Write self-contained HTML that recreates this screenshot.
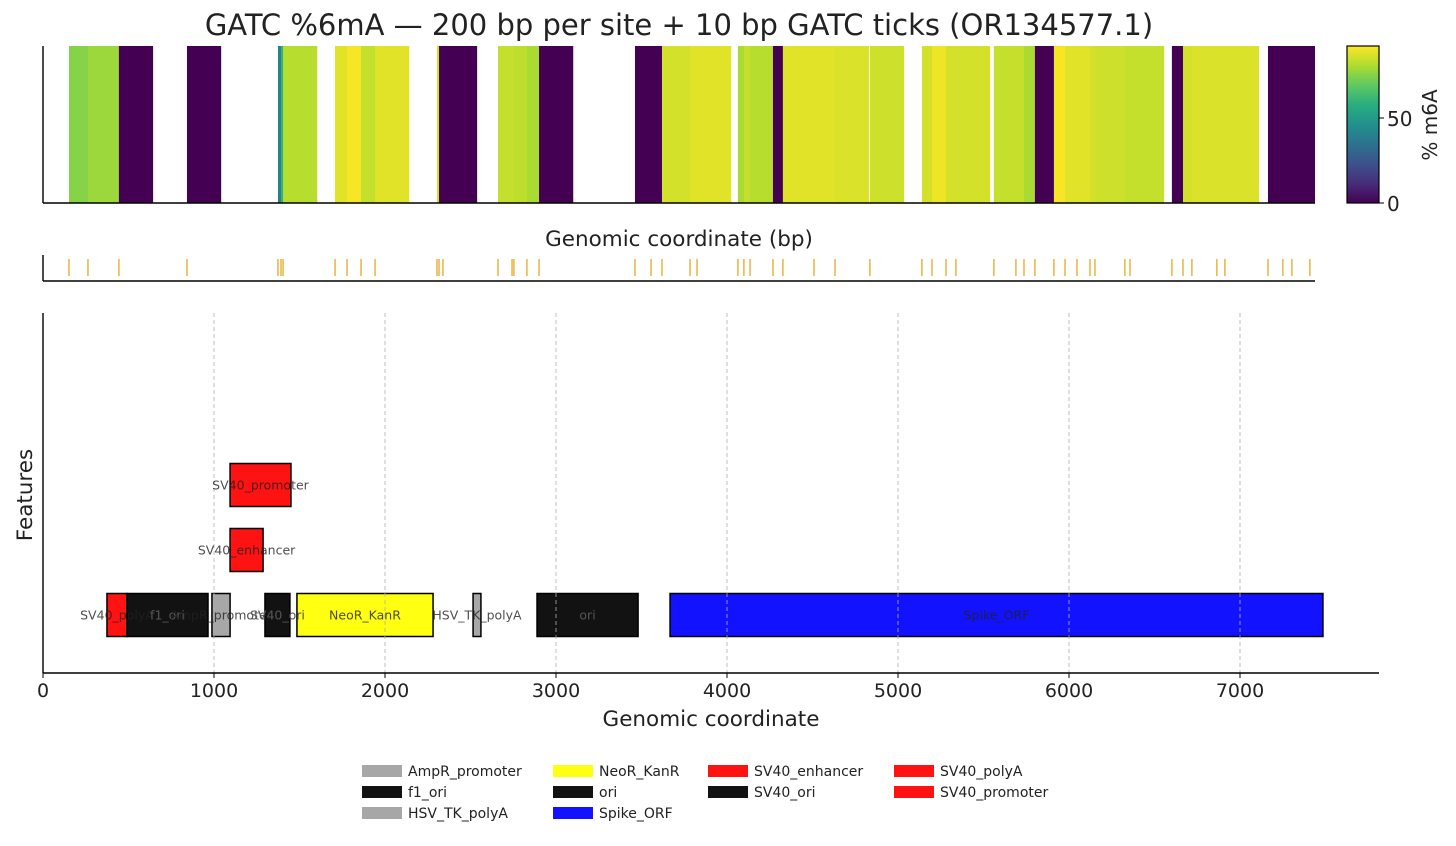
<!DOCTYPE html>
<html><head><meta charset="utf-8"><style>
body{margin:0;background:#fff;}
svg text{font-family:"DejaVu Sans","Liberation Sans",sans-serif;}
</style></head><body>
<svg id="chart" xmlns="http://www.w3.org/2000/svg" width="1456" height="841" viewBox="0 0 1456 841">
<defs>
<linearGradient id="vir" x1="0" y1="1" x2="0" y2="0">
<stop offset="0" stop-color="#440154"/><stop offset="0.125" stop-color="#472d7b"/><stop offset="0.25" stop-color="#3b528b"/><stop offset="0.375" stop-color="#2c728e"/><stop offset="0.5" stop-color="#21918c"/><stop offset="0.625" stop-color="#28ae80"/><stop offset="0.75" stop-color="#5ec962"/><stop offset="0.875" stop-color="#addc30"/><stop offset="1" stop-color="#fde725"/>
</linearGradient>
</defs>
<text x="679" y="35" font-size="29" text-anchor="middle" fill="#222">GATC %6mA — 200 bp per site + 10 bp GATC ticks (OR134577.1)</text>
<g id="heat"></g>
<g id="ticks"></g>
<g id="features"></g>
<g>
<rect x="1347" y="46" width="32" height="157" fill="url(#vir)" stroke="#000" stroke-width="1.2"/>
<line x1="1379" y1="118" x2="1384" y2="118" stroke="#000"/>
<line x1="1379" y1="203" x2="1384" y2="203" stroke="#000"/>
<text x="1387" y="126" font-size="20" fill="#222">50</text>
<text x="1387" y="211" font-size="20" fill="#222">0</text>
<text transform="translate(1437,125) rotate(-90)" font-size="20" text-anchor="middle" fill="#222">% m6A</text>
</g>
<text x="679" y="246" font-size="21.5" text-anchor="middle" fill="#222">Genomic coordinate (bp)</text>
<text x="711" y="726" font-size="21.5" text-anchor="middle" fill="#222">Genomic coordinate</text>
<text transform="translate(32,495) rotate(-90)" font-size="21.5" text-anchor="middle" fill="#222">Features</text>
<g id="legend"></g>
</svg>
<script>
// GATC sites (bp) and % m6A values
const sitePos = [152,263,444,842,1374,1392,1404,1708,1778,1860,1942,2304,2316,2339,2661,2743,2754,2830,2901,3462,3556,3620,3784,3825,4064,4099,4135,4269,4327,4509,4632,4836,5140,5199,5281,5339,5561,5690,5737,5801,5912,5977,6047,6123,6152,6327,6357,6602,6667,6719,6865,6912,7164,7251,7304,7409];
const siteVal = [75,78,0,0,40,60,82,88,91,84,88,85,0,0,84,84,83,80,0,0,0,86,88,88,80,84,82,0,88,88,87,85,86,90,86,86,84,84,80,0,91,88,88,86,85,84,84,0,86,87,87,87,0,0,0,0];
// features
const featNames = ["SV40_polyA","f1_ori","AmpR_promoter","SV40_ori","NeoR_KanR","HSV_TK_polyA","ori","Spike_ORF","SV40_enhancer","SV40_promoter"];
const featStart = [374,491,988,1298,1485,2515,2889,3667,1094,1094];
const featEnd = [491,965,1094,1444,2281,2561,3480,7485,1287,1450];
const featRow = [0,0,0,0,0,0,0,0,1,2];
const featColor = ["#ff0000","#000000","#a0a0a0","#000000","#ffff00","#a0a0a0","#000000","#0000ff","#ff0000","#ff0000"];
const xTicks = [0,1000,2000,3000,4000,5000,6000,7000];
const legendNames = ["AmpR_promoter","f1_ori","HSV_TK_polyA","NeoR_KanR","ori","Spike_ORF","SV40_enhancer","SV40_ori","SV40_polyA","SV40_promoter"];
const legendColors = ["#a0a0a0","#000000","#a0a0a0","#ffff00","#000000","#0000ff","#ff0000","#000000","#ff0000","#ff0000"];

const NS="http://www.w3.org/2000/svg";
function mk(tag,attrs,parent){const e=document.createElementNS(NS,tag);for(const k in attrs)e.setAttribute(k,attrs[k]);parent.appendChild(e);return e;}
const vmax=92, seqLen=7439;
const xTop = bp => 43 + bp*(1315-43)/seqLen;
const xBot = bp => 43 + bp*0.171;
const rowY = r => 615 - r*65;
const vir=[[68,1,84],[71,45,123],[59,82,139],[44,114,142],[33,145,140],[40,174,128],[94,201,98],[173,220,48],[253,231,37]];
function cmap(v){let t=Math.max(0,Math.min(1,v/vmax))*8;const i=Math.min(7,Math.floor(t));const f=t-i;const a=vir[i],b=vir[i+1];return `rgb(${a.map((c,j)=>Math.round(c+(b[j]-c)*f)).join(',')})`;}

// heatmap
const heat=document.getElementById('heat');
const cp=mk('clipPath',{id:'hc'},heat);
mk('rect',{x:43,y:46,width:1272,height:157},cp);
const hg=mk('g',{'clip-path':'url(#hc)'},heat);
sitePos.forEach((p,i)=>{
  const r=mk('rect',{x:xTop(p),y:46,width:xTop(p+200)-xTop(p),height:157,fill:cmap(siteVal[i])},hg);
  
  
});
let l=mk('line',{x1:43,y1:46,x2:43,y2:203,stroke:'#000','stroke-width':1.4},heat);

l=mk('line',{x1:43,y1:203,x2:1315,y2:203,stroke:'#000','stroke-width':1.4},heat);


// tick strip
const tk=document.getElementById('ticks');
sitePos.forEach(p=>{
  const t=mk('line',{x1:xTop(p),y1:259,x2:xTop(p),y2:276,stroke:'#e8b440','stroke-width':1.5},tk);
  
  
});
l=mk('line',{x1:43,y1:255,x2:43,y2:281,stroke:'#000','stroke-width':1.4},tk);

l=mk('line',{x1:43,y1:281,x2:1315,y2:281,stroke:'#000','stroke-width':1.4},tk);


// features
const fg=document.getElementById('features');
featNames.forEach((n,i)=>{
  const r=mk('rect',{x:xBot(featStart[i]),y:rowY(featRow[i])-21.5,width:xBot(featEnd[i])-xBot(featStart[i]),height:43,fill:featColor[i],'fill-opacity':0.93,stroke:'#000','stroke-width':1.5},fg);
  
  
});
xTicks.forEach(v=>{
  if(v>0){const g=mk('line',{x1:xBot(v),y1:313,x2:xBot(v),y2:673,stroke:'#b0b0b0','stroke-width':0.8,'stroke-dasharray':'4,3'},fg);
  }
  const tm=mk('line',{x1:xBot(v),y1:673,x2:xBot(v),y2:678,stroke:'#000'},fg);
  
  const tl=mk('text',{x:xBot(v),y:697,'font-size':19,'text-anchor':'middle',fill:'#222'},fg);
  tl.textContent=v;
  
});
featNames.forEach((n,i)=>{
  const cx=(xBot(featStart[i])+xBot(featEnd[i]))/2;
  const dark=featColor[i]==="#000000";
  const t=mk('text',{x:cx,y:rowY(featRow[i])+4.5,'font-size':12.5,'text-anchor':'middle',fill:dark?'#555':'#222','fill-opacity':dark?1:0.8},fg);
  t.textContent=n;
  
  
});
l=mk('line',{x1:43,y1:313,x2:43,y2:673,stroke:'#000','stroke-width':1.4},fg);

l=mk('line',{x1:43,y1:673,x2:1379,y2:673,stroke:'#000','stroke-width':1.4},fg);


// legend (column-major, 3,3,2,2)
const lg=document.getElementById('legend');
const colX=[362,553,708,894];
const colStart=[0,3,6,8];
legendNames.forEach((n,i)=>{
  let c=0; for(let k=0;k<4;k++) if(i>=colStart[k]) c=k;
  const r=i-colStart[c];
  const y=771+r*21;
  const g=mk('g',{},lg);
  
  
  mk('rect',{x:colX[c],y:y-6,width:40,height:12,fill:legendColors[i],'fill-opacity':0.93},g);
  const t=mk('text',{x:colX[c]+46,y:y+5,'font-size':14,fill:'#222'},g);
  t.textContent=n;
});
</script>
</body></html>
